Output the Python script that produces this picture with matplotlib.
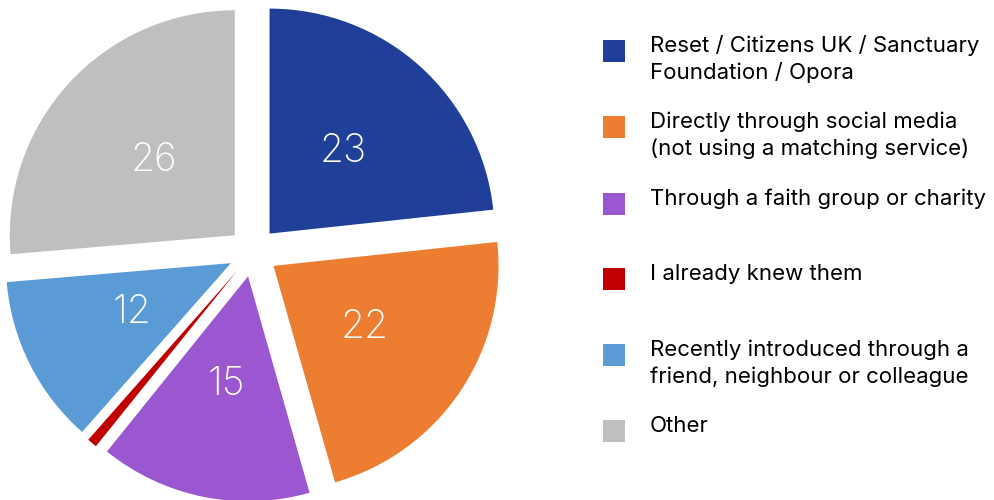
import matplotlib.pyplot as plt
from matplotlib.patches import Rectangle

plt.rcParams['font.family'] = ['Inter', 'DejaVu Sans']

# ------------------------------------------------------------------

categories = ['Reset / Citizens UK / Sanctuary\nFoundation / Opora',
              'Directly through social media\n(not using a matching service)',
              'Through a faith group or charity',
              'I already knew them',
              'Recently introduced through a\nfriend, neighbour or colleague',
              'Other']
values = [23, 22, 15, 0.7, 12, 26]
value_labels = ['23', '22', '15', '', '12', '26']
colors = ['#1f3f99', '#ed7d31', '#9b57cf', '#c00000', '#5b9bd5', '#bfbfbf']

# ------------------------------------------------------------------

fig = plt.figure(figsize=(9.94, 5), dpi=100)
ax = fig.add_axes([0, 0, 506 / 994, 1])

wedges, texts = ax.pie(values,
                       labels=value_labels,
                       colors=colors,
                       startangle=90,
                       counterclock=False,
                       explode=[0.11] * len(values),
                       labeldistance=0.49,
                       wedgeprops={'linewidth': 0},
                       textprops={'color': 'white', 'fontsize': 28,
                                  'fontweight': 'light',
                                  'ha': 'center', 'va': 'center'})

ax.set_aspect('auto')
ax.set_xlim(-1.1244, 1.1244)
ax.set_ylim(-1.102, 1.12)
ax.axis('off')

# 범례 (직접 그림, 줄마다 따로)
W, H = 994, 500
y_centers = [51, 127, 204, 279, 355, 431]
for lab, col, yc in zip(categories, colors, y_centers):
    fig.patches.append(Rectangle((603 / W, 1 - (yc + 11) / H), 22 / W, 22 / H,
                                 transform=fig.transFigure, facecolor=col,
                                 edgecolor='none'))
    for i, line in enumerate(lab.split('\n')):
        fig.text(650 / W, 1 - (yc + 1 + 27 * i) / H, line, fontsize=16,
                 color='#000000', ha='left', va='baseline')

plt.savefig('out.png', dpi=100)
